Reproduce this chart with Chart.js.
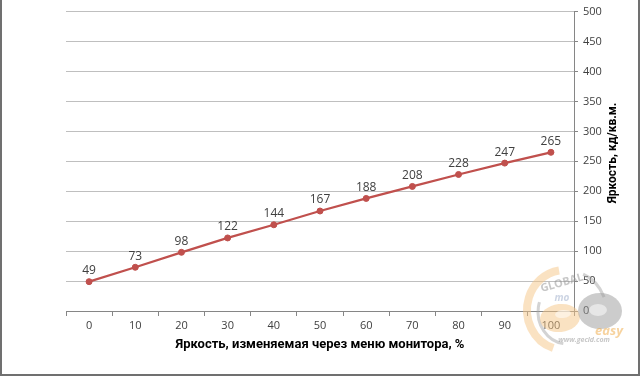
<!DOCTYPE html>
<html>
<head>
<meta charset="utf-8">
<script src="https://cdn.jsdelivr.net/npm/chart.js@4/dist/chart.umd.min.js"></script>
<style>
  html, body { margin: 0; padding: 0; background: #fff; }
  canvas { display: block; }
</style>
</head>
<body>
<canvas id="c" width="640" height="376"></canvas>
<script>
// ---- data ----
const categories = ['0', '10', '20', '30', '40', '50', '60', '70', '80', '90', '100'];
const brightness = [49, 73, 98, 122, 144, 167, 188, 208, 228, 247, 265];
const yMin = 0;
const yMax = 500;
const yStep = 50;
const xTitle = 'Яркость, изменяемая через меню монитора, %';
const yTitle = 'Яркость, кд/кв.м.';
const watermarkWords = ['GLOBAL', 'mo', 'easy', 'www.gecid.com'];

const FONT = '"Open Sans", "DejaVu Sans", sans-serif';
const TITLE_FONT = 'Roboto, "Open Sans", sans-serif';

const framePlugin = {
  id: 'frame',
  beforeDraw(chart) {
    const ctx = chart.ctx;
    ctx.save();
    ctx.fillStyle = '#ffffff';
    ctx.fillRect(0, 0, chart.width, chart.height);
    ctx.restore();
  },
  afterDraw(chart) {
    const ctx = chart.ctx;
    ctx.save();
    ctx.strokeStyle = '#707070';
    ctx.lineWidth = 2;
    ctx.strokeRect(1, -2, chart.width - 2, chart.height + 1);
    ctx.restore();
  }
};

const labelPlugin = {
  id: 'pointLabels',
  afterDatasetsDraw(chart) {
    const ctx = chart.ctx;
    const meta = chart.getDatasetMeta(0);
    const data = chart.data.datasets[0].data;
    ctx.save();
    ctx.font = '12px ' + FONT;
    ctx.fillStyle = '#404040';
    ctx.textAlign = 'center';
    ctx.textBaseline = 'bottom';
    meta.data.forEach((pt, i) => {
      ctx.fillText(String(data[i]), pt.x, pt.y - 5);
    });
    ctx.restore();
  }
};

const yTitlePlugin = {
  id: 'yTitle',
  afterDraw(chart) {
    const ctx = chart.ctx;
    ctx.save();
    ctx.translate(613, 153);
    ctx.rotate(-Math.PI / 2);
    ctx.font = 'bold 12px ' + TITLE_FONT;
    ctx.fillStyle = '#000000';
    ctx.textAlign = 'center';
    ctx.textBaseline = 'middle';
    ctx.fillText(yTitle, 0, 0);
    ctx.restore();
  }
};

const watermarkPlugin = {
  id: 'watermark',
  afterDraw(chart) {
    const ctx = chart.ctx;
    ctx.save();
    ctx.globalAlpha = 0.5;
    // orange outer ring (left part)
    ctx.strokeStyle = '#f6c585';
    ctx.lineWidth = 8;
    ctx.beginPath();
    ctx.ellipse(565, 310, 38, 40, 0, Math.PI * 0.6, Math.PI * 1.45);
    ctx.stroke();
    // gray inner arc
    ctx.strokeStyle = '#a8a8a8';
    ctx.lineWidth = 3;
    ctx.beginPath();
    ctx.ellipse(568, 312, 30, 32, 0, Math.PI * 0.55, Math.PI * 1.1);
    ctx.stroke();
    // gray arc top right
    ctx.beginPath();
    ctx.ellipse(572, 318, 36, 46, 0, Math.PI * 1.6, Math.PI * 1.85);
    ctx.stroke();
    // orange "e" shape
    ctx.fillStyle = '#f6c585';
    ctx.beginPath();
    ctx.ellipse(560, 318, 20, 14, -0.1, 0, Math.PI * 2);
    ctx.fill();
    ctx.fillStyle = '#ffffff';
    ctx.beginPath();
    ctx.ellipse(563, 314, 8, 4, -0.1, 0, Math.PI * 2);
    ctx.fill();
    // gray "D" shape
    ctx.fillStyle = '#9a9a9a';
    ctx.beginPath();
    ctx.ellipse(600, 311, 22, 18, 0, 0, Math.PI * 2);
    ctx.fill();
    ctx.fillStyle = '#ffffff';
    ctx.beginPath();
    ctx.ellipse(598, 310, 9, 6, 0, 0, Math.PI * 2);
    ctx.fill();
    // texts
    ctx.fillStyle = '#8f8f8f';
    ctx.font = 'bold 11px ' + FONT;
    ctx.textAlign = 'center';
    ctx.textBaseline = 'middle';
    ctx.save();
    ctx.translate(562, 283);
    ctx.rotate(-0.28);
    ctx.fillText(watermarkWords[0], 0, 0);
    ctx.restore();
    ctx.fillStyle = '#9aaac8';
    ctx.font = 'bold italic 10px ' + FONT;
    ctx.fillText(watermarkWords[1], 562, 298);
    ctx.fillStyle = '#f0a840';
    ctx.font = 'bold italic 13px ' + FONT;
    ctx.fillText(watermarkWords[2], 609, 331);
    ctx.fillStyle = '#8f8f8f';
    ctx.font = 'bold italic 7px ' + FONT;
    ctx.fillText(watermarkWords[3], 584, 340);
    ctx.restore();
  }
};

new Chart(document.getElementById('c'), {
  type: 'line',
  data: {
    labels: categories,
    datasets: [{
      data: brightness,
      borderColor: '#c0504d',
      backgroundColor: '#c0504d',
      borderWidth: 2.25,
      pointRadius: 3,
      pointBackgroundColor: '#c0504d',
      pointBorderColor: '#c0504d',
      pointBorderWidth: 1,
      tension: 0,
      fill: false
    }]
  },
  options: {
    responsive: false,
    animation: false,
    devicePixelRatio: 1,
    layout: { padding: { left: 66, top: 9, right: 0, bottom: 0 } },
    plugins: { legend: { display: false }, tooltip: { enabled: false } },
    scales: {
      x: {
        type: 'category',
        offset: true,
        afterFit(scale) { scale.height = 376 - 311; },
        grid: {
          offset: true,
          drawOnChartArea: false,
          drawTicks: true,
          tickLength: 5,
          color: '#868686',
          lineWidth: 1
        },
        border: { display: true, color: '#868686', width: 1 },
        ticks: {
          color: '#404040',
          font: { family: FONT, size: 11 },
          padding: 3,
          maxRotation: 0,
          autoSkip: false
        },
        title: {
          display: true,
          text: xTitle,
          color: '#000000',
          font: { family: TITLE_FONT, size: 13, weight: 'bold' },
          padding: { top: 0, bottom: 23 }
        }
      },
      y: {
        position: 'right',
        min: yMin,
        max: yMax,
        afterFit(scale) { scale.width = 640 - 574; },
        grid: {
          color: '#bfbfbf',
          lineWidth: 1,
          drawTicks: true,
          tickLength: 4,
          tickColor: '#868686'
        },
        border: { display: true, color: '#868686', width: 1 },
        ticks: {
          stepSize: yStep,
          color: '#404040',
          font: { family: FONT, size: 11 },
          padding: 5
        },
        title: { display: false }
      }
    }
  },
  plugins: [framePlugin, labelPlugin, yTitlePlugin, watermarkPlugin]
});
</script>
</body>
</html>
